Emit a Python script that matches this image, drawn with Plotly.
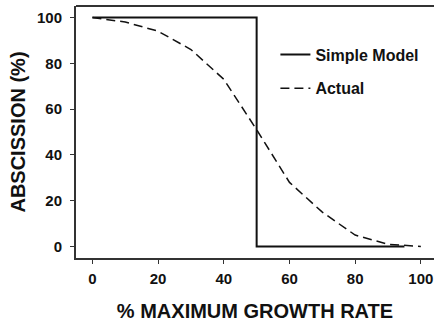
import plotly.graph_objects as go

# Data
model_x = [0, 50, 50, 95]
model_y = [100, 100, 0, 0]
actual_x = [0, 10, 20, 30, 40, 50, 60, 70, 80, 90, 100]
actual_y = [100, 98, 94, 86, 73, 51, 28, 15, 5, 1, 0]

FONT = "Liberation Sans, Arial, sans-serif"

fig = go.Figure()
fig.add_trace(go.Scatter(x=model_x, y=model_y, mode="lines", name="Simple Model",
                         legendgroup="a",
                         line=dict(color="#111111", width=2)))
fig.add_trace(go.Scatter(x=actual_x, y=actual_y, mode="lines", name="Actual",
                         legendgroup="b",
                         line=dict(color="#111111", width=1.5, dash="9px,5px")))

axis_common = dict(showgrid=False, zeroline=False, showline=True, linecolor="#333333",
                   linewidth=2, ticks="outside", ticklen=4, tickcolor="#333333",
                   automargin=False, ticklabeloverflow="allow",
                   tickfont=dict(family=FONT, size=15, color="#111111", weight="bold"))

fig.update_xaxes(range=[-5, 104], tickvals=[0, 20, 40, 60, 80, 100],
                 title=dict(text="% MAXIMUM GROWTH RATE", standoff=20,
                            font=dict(family=FONT, size=20, color="#111111", weight="bold")),
                 ticklabelstandoff=2,
                 **axis_common)
fig.update_yaxes(range=[-5, 105], tickvals=[0, 20, 40, 60, 80, 100],
                 title=dict(text="ABSCISSION (%)", standoff=6,
                            font=dict(family=FONT, size=20, color="#111111", weight="bold")),
                 ticklabelstandoff=5,
                 **axis_common)

fig.add_shape(type="line", xref="paper", yref="paper", x0=0, x1=1, y0=1, y1=1,
              line=dict(color="#333333", width=2))

fig.update_layout(
    width=434, height=322,
    margin=dict(l=76, r=0, t=6, b=64),
    plot_bgcolor="white", paper_bgcolor="white",
    legend=dict(x=0.557, y=0.875, xanchor="left", yanchor="top", tracegroupgap=10,
                bgcolor="rgba(0,0,0,0)",
                font=dict(family=FONT, size=16, color="#111111", weight="bold")),
)

fig.write_html("out.html", config={"displayModeBar": False},
               post_script="document.body.style.margin='0px';")
